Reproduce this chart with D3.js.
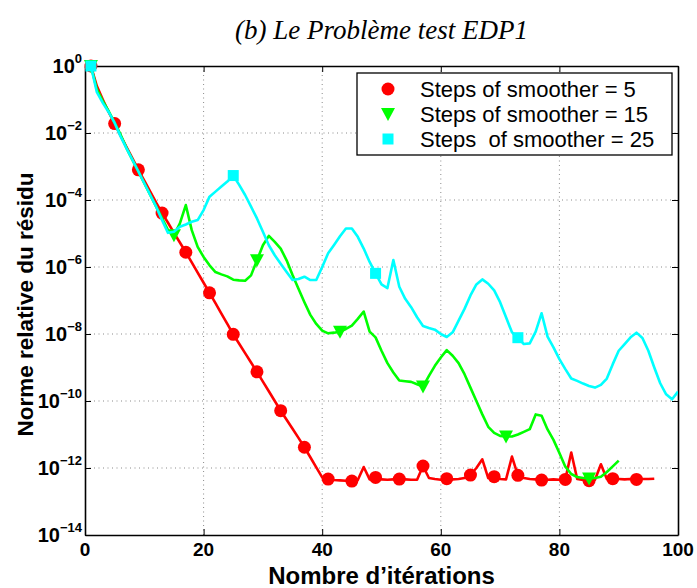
<!DOCTYPE html>
<html>
<head>
<meta charset="utf-8">
<script src="https://cdn.jsdelivr.net/npm/d3@7"></script>
<style>
  html, body { margin: 0; padding: 0; background: #fff; }
  svg { display: block; }
</style>
</head>
<body>
<svg id="chart" width="697" height="588"></svg>
<script>
// Relative residual norm per iteration, stored as log10 values (iteration = index + 1)
const log10ResidualSmoother5 = [
  0, -0.6, -1.0, -1.38, -1.72, -2.08, -2.42, -2.76, -3.1, -3.42,
  -3.75, -4.08, -4.39, -4.68, -4.98, -5.27, -5.56, -5.86, -6.17, -6.47,
  -6.77, -7.08, -7.39, -7.7, -8.01, -8.29, -8.57, -8.85, -9.13, -9.42,
  -9.71, -10.0, -10.29, -10.56, -10.83, -11.1, -11.38, -11.68, -11.98, -12.28,
  -12.33, -12.36, -12.37, -12.38, -12.39, -12.36, -11.97, -12.34, -12.28, -12.34,
  -12.35, -12.34, -12.33, -12.34, -12.35, -12.35, -11.94, -12.3, -12.33, -12.35,
  -12.32, -12.34, -12.33, -12.3, -12.21, -12.0, -11.74, -12.3, -12.26, -12.33,
  -12.34, -11.66, -12.22, -12.3, -12.33, -12.34, -12.36, -12.35, -12.34, -12.35,
  -12.34, -11.54, -12.33, -12.36, -12.38, -12.35, -11.89, -12.33, -12.32, -12.33,
  -12.34, -12.33, -12.34, -12.33, -12.33, -12.32
];
const log10ResidualSmoother15 = [
  0, -0.7, -1.05, -1.35, -1.7, -2.05, -2.45, -2.8, -3.15, -3.5,
  -3.85, -4.2, -4.55, -4.9, -5.05, -4.7, -4.15, -4.9, -5.4, -5.7,
  -5.95, -6.15, -6.22, -6.28, -6.38, -6.4, -6.41, -6.25, -5.8, -5.35,
  -5.07, -5.25, -5.45, -5.8, -6.24, -6.65, -7.05, -7.43, -7.7, -7.9,
  -7.98, -7.96, -7.93, -7.85, -7.75, -7.55, -7.33, -7.93, -8.1, -8.5,
  -8.87, -9.15, -9.39, -9.41, -9.43, -9.5, -9.57, -9.25, -8.95, -8.7,
  -8.48, -8.65, -8.87, -9.2, -9.6, -10.0, -10.4, -10.77, -10.95, -11.04,
  -11.06, -11.06, -11.0, -10.92, -10.84, -10.4, -10.44, -10.85, -11.16, -11.55,
  -11.96, -12.18, -12.27, -12.3, -12.31, -12.3, -12.26, -12.12, -11.95, -11.78
];
const log10ResidualSmoother25 = [
  0, -0.78, -1.1, -1.38, -1.7, -2.1, -2.46, -2.8, -3.15, -3.5,
  -3.85, -4.2, -4.6, -4.98, -4.95, -4.8, -4.73, -4.65, -4.6, -4.3,
  -3.9, -3.75, -3.6, -3.45, -3.27, -3.55, -3.85, -4.2, -4.55, -4.95,
  -5.35, -5.65, -5.9, -6.15, -6.39, -6.36, -6.29, -6.39, -6.39, -6.0,
  -5.59, -5.34, -5.08, -4.85, -4.85, -5.1, -5.45, -5.85, -6.19, -6.52,
  -6.63, -5.79, -6.59, -6.95, -7.2, -7.5, -7.76, -7.82, -7.87, -8.0,
  -8.09, -7.95, -7.6, -7.25, -6.85, -6.52, -6.37, -6.5, -6.7, -7.05,
  -7.5, -7.95, -8.11, -8.3, -8.28, -7.93, -7.38, -8.08, -8.4, -8.75,
  -9.05, -9.33, -9.4, -9.48, -9.55, -9.6, -9.52, -9.33, -8.9, -8.5,
  -8.3, -8.1, -7.96, -8.12, -8.5, -9.0, -9.47, -9.8, -9.95, -9.72
];

// Iterations that carry a marker for each series
const markerItersSmoother5 = [1, 5, 9, 13, 17, 21, 25, 29, 33, 37, 41, 45, 49, 53, 57, 61, 65, 69, 73, 77, 81, 85, 89, 93];
const markerItersSmoother15 = [1, 15, 29, 43, 57, 71, 85];
const markerItersSmoother25 = [1, 25, 49, 73];

const seriesLabels = ["Steps of smoother = 5", "Steps of smoother = 15", "Steps  of smoother = 25"];
const xTickValues = [0, 20, 40, 60, 80, 100];
const yTickExponents = [0, -2, -4, -6, -8, -10, -12, -14];

const titleText = "(b) Le Problème test EDP1";
const xAxisTitle = "Nombre d\u2019itérations";
const yAxisTitle = "Norme relative du résidu";

const svg = d3.select("#chart");
const plot = { left: 85, right: 678, top: 66, bottom: 535 };

const x = d3.scaleLinear().domain([0, 100]).range([plot.left, plot.right]);
const y = d3.scaleLog().domain([1e-14, 1]).range([plot.bottom, plot.top]);

const toPoints = logs => logs.map((v, i) => ({ it: i + 1, val: Math.pow(10, v) }));

const series = [
  { data: toPoints(log10ResidualSmoother5), markers: markerItersSmoother5, color: "#ff0000", shape: "circle" },
  { data: toPoints(log10ResidualSmoother15), markers: markerItersSmoother15, color: "#00ff00", shape: "triangle" },
  { data: toPoints(log10ResidualSmoother25), markers: markerItersSmoother25, color: "#00ffff", shape: "square" }
];

// Dotted grid
const grid = svg.append("g").attr("stroke", "#8a8a8a").attr("stroke-width", 1).attr("stroke-dasharray", "1,3.5");
xTickValues.slice(1, -1).forEach(t => {
  grid.append("line").attr("x1", x(t)).attr("x2", x(t)).attr("y1", plot.top).attr("y2", plot.bottom);
});
yTickExponents.slice(1, -1).forEach(e => {
  grid.append("line").attr("x1", plot.left).attr("x2", plot.right).attr("y1", y(Math.pow(10, e))).attr("y2", y(Math.pow(10, e)));
});

// Axes with inward ticks
const tickLen = 6;
const xAxisBottom = d3.axisBottom(x).tickValues(xTickValues).tickSizeInner(-tickLen).tickSizeOuter(0).tickFormat("");
const xAxisTop = d3.axisTop(x).tickValues(xTickValues).tickSizeInner(-tickLen).tickSizeOuter(0).tickFormat("");
const yVals = yTickExponents.map(e => Math.pow(10, e));
const yAxisLeft = d3.axisLeft(y).tickValues(yVals).tickSizeInner(-tickLen).tickSizeOuter(0).tickFormat("");
const yAxisRight = d3.axisRight(y).tickValues(yVals).tickSizeInner(-tickLen).tickSizeOuter(0).tickFormat("");

const axisStyle = g => {
  g.selectAll(".domain").attr("stroke", "#000").attr("stroke-width", 1.6);
  g.selectAll(".tick line").attr("stroke", "#000").attr("stroke-width", 1);
};
svg.append("g").attr("transform", `translate(0,${plot.bottom})`).call(xAxisBottom).call(axisStyle);
svg.append("g").attr("transform", `translate(0,${plot.top})`).call(xAxisTop).call(axisStyle);
svg.append("g").attr("transform", `translate(${plot.left},0)`).call(yAxisLeft).call(axisStyle);
svg.append("g").attr("transform", `translate(${plot.right},0)`).call(yAxisRight).call(axisStyle);

// Tick labels
const labelFont = "'Liberation Sans', Arial, Helvetica, sans-serif";
svg.append("g").selectAll("text").data(xTickValues).join("text")
  .attr("x", d => x(d)).attr("y", 556)
  .attr("text-anchor", "middle")
  .attr("font-family", labelFont).attr("font-weight", "bold").attr("font-size", 19)
  .text(d => d);

const yLabels = svg.append("g").selectAll("text").data(yTickExponents).join("text")
  .attr("x", 82).attr("y", d => y(Math.pow(10, d)) + 7)
  .attr("text-anchor", "end")
  .attr("font-family", labelFont).attr("font-weight", "bold").attr("font-size", 20);
yLabels.append("tspan").text("10");
yLabels.append("tspan").attr("dy", -10).attr("font-size", 13).text(d => d === 0 ? "0" : "\u2212" + Math.abs(d));

// Axis titles
svg.append("text")
  .attr("x", (plot.left + plot.right) / 2).attr("y", 584)
  .attr("text-anchor", "middle")
  .attr("font-family", labelFont).attr("font-weight", "bold").attr("font-size", 24)
  .text(xAxisTitle);
svg.append("text")
  .attr("transform", `translate(33,${(plot.top + plot.bottom) / 2 + 4}) rotate(-90)`)
  .attr("text-anchor", "middle")
  .attr("font-family", labelFont).attr("font-weight", "bold").attr("font-size", 22.5)
  .text(yAxisTitle);

// Title
svg.append("text")
  .attr("x", (plot.left + plot.right) / 2).attr("y", 39)
  .attr("text-anchor", "middle")
  .attr("font-family", "'Liberation Serif', 'DejaVu Serif', serif").attr("font-style", "italic").attr("font-size", 27)
  .text(titleText);

// Marker shapes
function drawMarker(g, shape, color, cx, cy) {
  if (shape === "circle") {
    g.append("circle").attr("cx", cx).attr("cy", cy).attr("r", 6.5).attr("fill", color);
  } else if (shape === "triangle") {
    g.append("path").attr("d", `M${cx - 7},${cy - 6} L${cx + 7},${cy - 6} L${cx},${cy + 7} Z`).attr("fill", color);
  } else {
    g.append("rect").attr("x", cx - 5.5).attr("y", cy - 5.5).attr("width", 11).attr("height", 11).attr("fill", color);
  }
}

// Curves
const line = d3.line().x(d => x(d.it)).y(d => y(d.val));
svg.append("clipPath").attr("id", "plotClip").append("rect")
  .attr("x", plot.left).attr("y", plot.top - 2).attr("width", plot.right - plot.left).attr("height", plot.bottom - plot.top + 2);

series.forEach(s => {
  const g = svg.append("g");
  g.append("path").datum(s.data)
    .attr("d", line)
    .attr("fill", "none").attr("stroke", s.color).attr("stroke-width", 2.6)
    .attr("stroke-linejoin", "round")
    .attr("clip-path", "url(#plotClip)");
  s.markers.forEach(it => {
    const p = s.data[it - 1];
    drawMarker(g, s.shape, s.color, x(p.it), y(p.val));
  });
});

// Legend
const legend = svg.append("g");
legend.append("rect").attr("x", 357).attr("y", 73).attr("width", 315).attr("height", 82)
  .attr("fill", "#fff").attr("stroke", "#000").attr("stroke-width", 1.3);
const rowY = [89, 114, 139];
series.forEach((s, i) => {
  drawMarker(legend, s.shape, s.color, 388, rowY[i]);
  legend.append("text").attr("x", 420).attr("y", rowY[i] + 7.5)
    .attr("font-family", labelFont).attr("font-size", 22)
    .style("white-space", "pre")
    .attr("xml:space", "preserve")
    .text(seriesLabels[i]);
});
</script>
</body>
</html>
